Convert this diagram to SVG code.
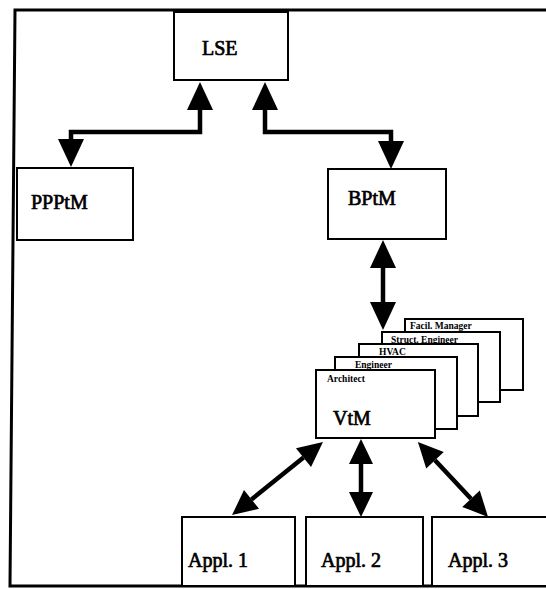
<svg xmlns="http://www.w3.org/2000/svg" width="546" height="589" viewBox="0 0 546 589">
  <style>
    .box { fill: #fff; stroke: #000; stroke-width: 2; }
    .frame { fill: none; stroke: #000; stroke-width: 3; stroke-linecap: square; }
    .conn { fill: none; stroke: #000; stroke-width: 4.5; stroke-linejoin: miter; }
    .lbl { font-family: "Liberation Serif", "Times New Roman", serif; font-size: 20px; fill: #000; stroke: #000; stroke-width: 0.7; }
    .tag { font-family: "Liberation Serif", "Times New Roman", serif; font-size: 9.5px; font-weight: bold; fill: #000; }
  </style>
  <defs>
    <marker id="head" markerUnits="userSpaceOnUse" markerWidth="28" markerHeight="26" refX="0" refY="13" orient="auto-start-reverse" overflow="visible">
      <path d="M0,0 L28,13 L0,26 z" fill="#000"/>
    </marker>
    <marker id="headSm" markerUnits="userSpaceOnUse" markerWidth="25" markerHeight="24" refX="0" refY="12" orient="auto-start-reverse" overflow="visible">
      <path d="M0,0 L25,12 L0,24 z" fill="#000"/>
    </marker>
  </defs>

  <!-- page frame -->
  <g id="frame">
    <path class="frame" d="M546,10 H15 L10,586 H546"/>
  </g>

  <!-- connectors -->
  <g id="connectors">
    <path class="conn" d="M200,110 V132 H71 V139" marker-start="url(#head)" marker-end="url(#head)"/>
    <path class="conn" d="M265,110 V132 H391 V141" marker-start="url(#head)" marker-end="url(#head)"/>
    <path class="conn" d="M383,268 V302" marker-start="url(#head)" marker-end="url(#head)"/>
    <path class="conn" d="M303.5,457.6 L251.5,499.4" marker-start="url(#headSm)" marker-end="url(#headSm)"/>
    <path class="conn" d="M361,464 V492" marker-start="url(#headSm)" marker-end="url(#headSm)"/>
    <path class="conn" d="M435,460.3 L471,498.7" marker-start="url(#headSm)" marker-end="url(#headSm)"/>
  </g>

  <g id="lse">
    <rect class="box" x="174" y="12" width="114" height="68"/>
    <text class="lbl" x="202" y="55">LSE</text>
  </g>

  <g id="ppptm">
    <rect class="box" x="17" y="168" width="116" height="72"/>
    <text class="lbl" x="31" y="209">PPPtM</text>
  </g>

  <g id="bptm">
    <rect class="box" x="328" y="169" width="118" height="70"/>
    <text class="lbl" x="348" y="205">BPtM</text>
  </g>

  <!-- stacked view cards, back to front -->
  <g id="card-facility">
    <rect class="box" x="405" y="319" width="118" height="71"/>
    <text class="tag" x="410" y="329">Facil. Manager</text>
  </g>
  <g id="card-struct">
    <rect class="box" x="382" y="332" width="118" height="70"/>
    <text class="tag" x="391" y="343">Struct. Engineer</text>
  </g>
  <g id="card-hvac">
    <rect class="box" x="359" y="344" width="119" height="72"/>
    <text class="tag" x="379" y="355">HVAC</text>
  </g>
  <g id="card-engineer">
    <rect class="box" x="335" y="357" width="122" height="72"/>
    <text class="tag" x="355" y="368">Engineer</text>
  </g>
  <g id="vtm">
    <rect class="box" x="316" y="370" width="119" height="68"/>
    <text class="tag" x="327" y="382">Architect</text>
    <text class="lbl" x="333" y="425">VtM</text>
  </g>

  <g id="appl1">
    <rect class="box" x="182" y="517" width="113" height="69"/>
    <text class="lbl" x="188" y="567">Appl. 1</text>
  </g>
  <g id="appl2">
    <rect class="box" x="306" y="517" width="117" height="69"/>
    <text class="lbl" x="321" y="567">Appl. 2</text>
  </g>
  <g id="appl3">
    <rect class="box" x="432" y="517" width="120" height="69"/>
    <text class="lbl" x="448" y="567">Appl. 3</text>
  </g>
</svg>
